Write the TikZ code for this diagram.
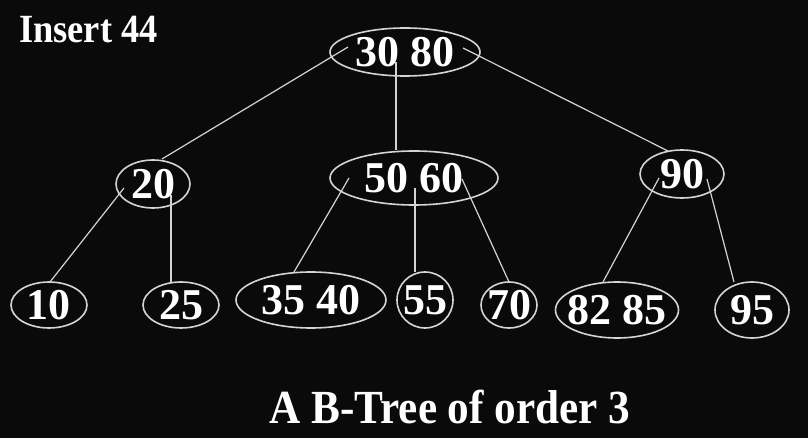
\documentclass[tikz,border=0pt]{standalone}
\usepackage{fontspec}
\setmainfont{Liberation Serif}
\newfontfamily\condfont[FakeStretch=0.91]{Liberation Serif}
\usepackage{tikz}
\usetikzlibrary{shapes.geometric}
\definecolor{slidebg}{HTML}{0A0A0A}
\definecolor{rim}{HTML}{D4D4D4}

\begin{document}
\begin{tikzpicture}[x=1pt, y=-1pt,
  keys/.style={draw=rim, ellipse, line width=1.6pt, inner xsep=-6pt, inner ysep=0pt, text=white, font=\fontsize{44}{44}\selectfont\bfseries},
  lnk/.style={draw=rim, line width=1.2pt},
  lbl/.style={inner sep=0pt, text=white}
]
\useasboundingbox (0,0) rectangle (808,438);
\fill[slidebg] (0,0) rectangle (808,438);

\node[lbl, anchor=base west, font=\condfont\fontsize{40}{40}\selectfont\bfseries] (title) at (19,43) {Insert 44};

% root and second level
\node[keys, minimum width=150pt, minimum height=48pt] (root) at (405,52) {30 80};
\node[keys, minimum width=74pt, minimum height=48pt] (n20) at (153,184) {20};
\node[keys, minimum width=168pt, minimum height=54pt] (n5060) at (414,178) {50 60};
\node[keys, minimum width=84pt, minimum height=48pt] (n90) at (682,174) {90};

% leaves
\node[keys, minimum width=76pt, minimum height=46pt] (n10) at (49,305) {10};
\node[keys, minimum width=76pt, minimum height=46pt] (n25) at (181,305) {25};
\node[keys, minimum width=150pt, minimum height=56pt] (n3540) at (311,300) {35 40};
\node[keys, minimum width=56pt, minimum height=56pt] (n55) at (425,300) {55};
\node[keys, minimum width=56pt, minimum height=46pt] (n70) at (509,305) {70};
\node[keys, minimum width=122pt, minimum height=56pt] (n8285) at (617,310) {82 85};
\node[keys, minimum width=74pt, minimum height=56pt] (n95) at (752,310) {95};

\draw[lnk] ([shift={(-57,-5)}]root.center) -- ([shift={(9,-25)}]n20.center);
\draw[lnk] ([shift={(-9,10)}]root.center) -- ([shift={(-18,-28)}]n5060.center);
\draw[lnk] ([shift={(58,-4)}]root.center) -- ([shift={(-14,-23)}]n90.center);

\draw[lnk] ([shift={(-29,4)}]n20.center) -- ([shift={(1,-23)}]n10.center);
\draw[lnk] ([shift={(18,11)}]n20.center) -- ([shift={(-10,-23)}]n25.center);

\draw[lnk] ([shift={(-65,0)}]n5060.center) -- ([shift={(-17,-28)}]n3540.center);
\draw[lnk] ([shift={(1,10)}]n5060.center) -- ([shift={(-10,-28)}]n55.center);
\draw[lnk] ([shift={(48,1)}]n5060.center) -- ([shift={(0,-23)}]n70.center);

\draw[lnk] ([shift={(-23,4)}]n90.center) -- ([shift={(-14,-28)}]n8285.center);
\draw[lnk] ([shift={(25,5)}]n90.center) -- ([shift={(-18,-28)}]n95.center);

\node[lbl, anchor=base, font=\condfont\fontsize{47.5}{47.5}\selectfont\bfseries] (caption) at (450,423) {A B-Tree of order 3};
\end{tikzpicture}
\end{document}
